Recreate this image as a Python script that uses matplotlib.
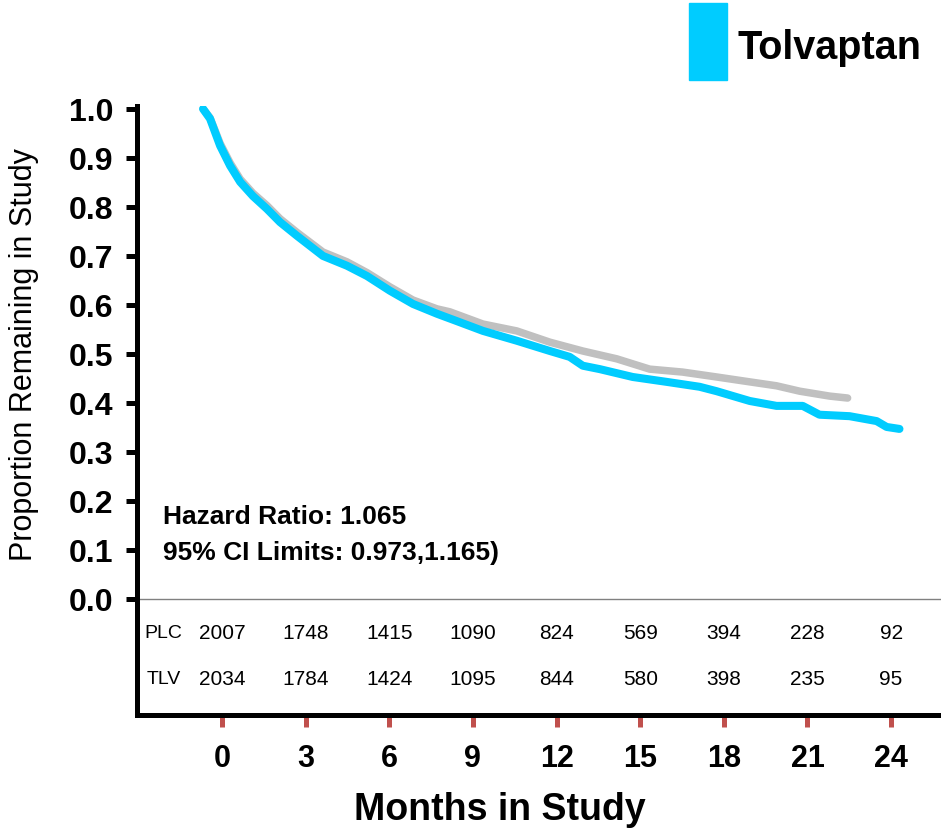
import numpy as np
import matplotlib
matplotlib.use("Agg")
from matplotlib import pyplot as plt
from matplotlib.patches import Rectangle

# Kaplan-Meier style curves, months since randomisation vs proportion remaining
months_plc = [0, 0.25, 0.61, 0.97, 1.33, 1.79, 2.29, 2.76, 3.37, 4.30, 5.16, 5.88, 6.70, 7.53,
              8.39, 8.85, 10.04, 11.25, 12.44, 13.62, 14.84, 16.02, 17.20, 18.42, 19.61, 20.57,
              21.40, 22.47, 23.12]
surv_plc = [1.0, 0.982, 0.93, 0.89, 0.857, 0.828, 0.803, 0.776, 0.748, 0.708, 0.688, 0.666, 0.637,
            0.610, 0.592, 0.586, 0.561, 0.547, 0.524, 0.506, 0.490, 0.469, 0.463, 0.453, 0.443,
            0.435, 0.424, 0.414, 0.410]

months_tlv = [0, 0.25, 0.61, 0.97, 1.33, 1.79, 2.29, 2.76, 3.37, 4.30, 5.16, 5.88, 6.70, 7.53,
              8.39, 9.10, 10.04, 11.25, 12.44, 13.15, 13.62, 14.23, 15.41, 16.63, 17.81, 18.42,
              19.61, 20.57, 21.51, 22.11, 23.19, 24.16, 24.52, 24.98]
surv_tlv = [1.0, 0.98, 0.925, 0.884, 0.851, 0.822, 0.796, 0.769, 0.741, 0.700, 0.680, 0.659, 0.629,
            0.602, 0.582, 0.567, 0.547, 0.527, 0.506, 0.494, 0.476, 0.469, 0.453, 0.443, 0.433,
            0.424, 0.404, 0.394, 0.394, 0.376, 0.373, 0.363, 0.351, 0.347]

# numbers at risk
risk_months = [0, 3, 6, 9, 12, 15, 18, 21, 24]
risk_plc = [2007, 1748, 1415, 1090, 824, 569, 394, 228, 92]
risk_tlv = [2034, 1784, 1424, 1095, 844, 580, 398, 235, 95]

y_ticks = [0.0, 0.1, 0.2, 0.3, 0.4, 0.5, 0.6, 0.7, 0.8, 0.9, 1.0]

hazard_ratio = "1.065"
ci_limits = "0.973,1.165)"

BLUE = "#00CCFF"
GREY = "#C0C0C0"
TICK_RED = "#C0504D"
FONT = ["Liberation Sans", "DejaVu Sans"]

fig = plt.figure(figsize=(9.41, 8.37), dpi=100)
ax = fig.add_axes([0.1456, 0.1446, 0.8544, 0.7276])
ax.set_xlim(-3.05, 25.79)
ax.set_ylim(-0.2367, 1.006)

for side in ["top", "right"]:
    ax.spines[side].set_visible(False)
for side in ["left", "bottom"]:
    ax.spines[side].set_linewidth(3.6)
    ax.spines[side].set_color("black")

ax.set_yticks(y_ticks)
ax.set_yticklabels([f"{v:.1f}" for v in y_ticks], fontfamily=FONT, fontweight="bold", fontsize=23)
ax.tick_params(axis="y", direction="out", length=8, width=3.6, color="black", pad=9)

ax.set_xticks(risk_months)
ax.set_xticklabels([str(m) for m in risk_months], fontfamily=FONT, fontweight="bold", fontsize=22)
ax.tick_params(axis="x", direction="out", length=8.5, width=3.6, color=TICK_RED, pad=12)

ax.axhline(0, color="#808080", lw=1)

# curves sit on their own x scale, shifted slightly left of the tick scale
km = ax.twiny()
km.set_xlim(-3.05 + 0.68, 25.79 + 0.68)
km.set_ylim(ax.get_ylim())
km.axis("off")
km.plot(months_plc, surv_plc, color=GREY, lw=5.4, solid_capstyle="round", solid_joinstyle="round")
km.plot(months_tlv, surv_tlv, color=BLUE, lw=5.8, solid_capstyle="round", solid_joinstyle="round")

# hazard ratio annotation
ax.text(-2.12, 0.169, f"Hazard Ratio: {hazard_ratio}", fontfamily=FONT, fontweight="bold",
        fontsize=19, va="center", ha="left")
ax.text(-2.12, 0.096, f"95% CI Limits: {ci_limits}", fontfamily=FONT, fontweight="bold",
        fontsize=19, va="center", ha="left")

# numbers at risk table
ax.text(-2.77, -0.069, "PLC", fontfamily=FONT, fontsize=14, va="center", ha="left")
ax.text(-2.70, -0.163, "TLV", fontfamily=FONT, fontsize=14, va="center", ha="left")
for m, p, t in zip(risk_months, risk_plc, risk_tlv):
    ax.text(m, -0.069, str(p), fontfamily=FONT, fontsize=15, va="center", ha="center")
    ax.text(m, -0.163, str(t), fontfamily=FONT, fontsize=15, va="center", ha="center")

# axis titles
fig.text(24 / 941, 1 - 355 / 837, "Proportion Remaining in Study", rotation=90,
         fontfamily=FONT, fontsize=22, ha="center", va="center")
fig.text(500 / 941, 1 - 810 / 837, "Months in Study", fontfamily=FONT, fontweight="bold",
         fontsize=27, ha="center", va="center")

# legend swatch
fig.patches.append(Rectangle((689 / 941, 1 - 81 / 837), 38 / 941, 77 / 837,
                             transform=fig.transFigure, color=BLUE, zorder=5))
fig.text(738 / 941, 1 - 48 / 837, "Tolvaptan", fontfamily=FONT, fontweight="bold",
         fontsize=28.5, ha="left", va="center")

fig.savefig("out.png", dpi=100)
